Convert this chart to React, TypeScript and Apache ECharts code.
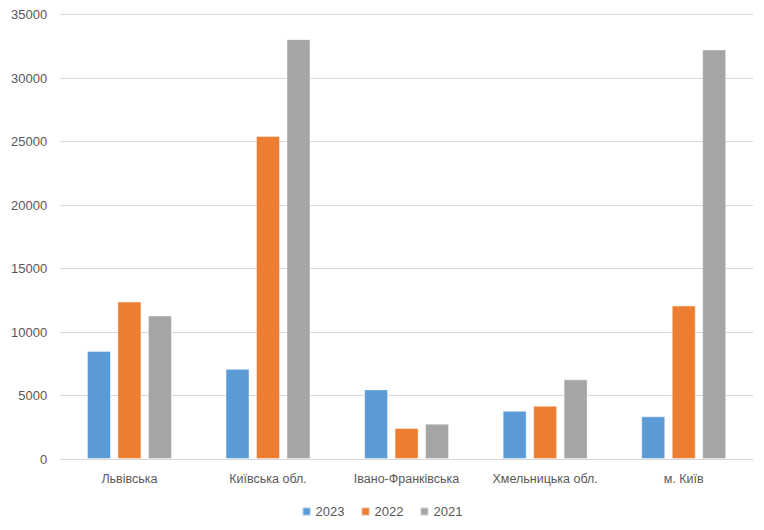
import React, { useEffect, useRef } from "react";
import * as echarts from "echarts";

const categories = ["Львівська", "Київська обл.", "Івано-Франківська", "Хмельницька обл.", "м. Київ"];
const series2023 = [8500, 7100, 5480, 3800, 3360];
const series2022 = [12400, 25430, 2440, 4190, 12090];
const series2021 = [11300, 33060, 2780, 6270, 32250];
const seriesNames = ["2023", "2022", "2021"];
const yTicks = { min: 0, max: 35000, interval: 5000 };

const FONT = '"Liberation Sans", "DejaVu Sans", sans-serif';

export default function App() {
  const ref = useRef<HTMLDivElement>(null);
  useEffect(() => {
    if (!ref.current) return;
    const chart = echarts.init(ref.current, undefined, { renderer: "svg" });
    const colors = ["#5B9BD5", "#ED7D31", "#A5A5A5"];
    const data = [series2023, series2022, series2021];
    chart.setOption({
      animation: false,
      color: colors,
      textStyle: { fontFamily: FONT },
      grid: { left: 52, right: 3, top: 6, bottom: 63 },
      legend: {
        top: 492,
        left: "center",
        itemWidth: 8,
        itemHeight: 8,
        itemGap: 16,
        itemTextGap: 4,
        icon: "rect",
        textStyle: { color: "#595959", fontSize: 13, fontFamily: FONT },
        data: seriesNames,
      },
      xAxis: {
        type: "category",
        data: categories,
        axisLine: { lineStyle: { color: "#D9D9D9", width: 1 } },
        axisTick: { show: false },
        axisLabel: { color: "#595959", fontSize: 12.5, margin: 13, fontFamily: FONT, interval: 0 },
      },
      yAxis: {
        type: "value",
        min: yTicks.min,
        max: yTicks.max,
        interval: yTicks.interval,
        axisLine: { show: false },
        axisTick: { show: false },
        splitLine: { lineStyle: { color: "#D9D9D9", width: 1 } },
        axisLabel: {
          color: "#595959",
          fontSize: 13,
          margin: 13,
          fontFamily: FONT,
          formatter: (v: number) => String(v),
        },
      },
      series: seriesNames.map((name, i) => ({
        name,
        type: "bar",
        data: data[i],
        barWidth: 24,
        barGap: "27%",
        itemStyle: { color: colors[i], borderColor: "rgba(255,255,255,0.45)", borderWidth: 1 },
      })),
    });
    return () => chart.dispose();
  }, []);
  return <div ref={ref} style={{ width: 748, height: 514 }} />;
}
